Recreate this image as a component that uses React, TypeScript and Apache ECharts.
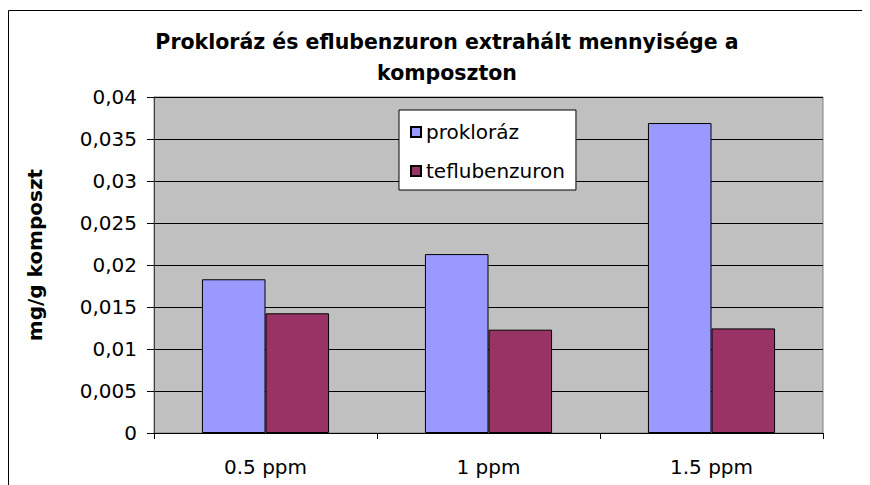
import React, { useEffect, useRef } from "react";
import * as echarts from "echarts";

const categories = ["0.5 ppm", "1 ppm", "1.5 ppm"];
const proklorazValues = [0.0183, 0.0213, 0.0369];
const teflubenzuronValues = [0.01425, 0.0123, 0.01245];
const seriesNames = ["prokloráz", "teflubenzuron"];
const titleLines = ["Prokloráz és eflubenzuron extrahált mennyisége a", "komposzton"];
const yAxisTitle = "mg/g komposzt";

const FONT = "'DejaVu Sans', 'Liberation Sans', Arial, sans-serif";

export default function App() {
  const ref = useRef<HTMLDivElement>(null);
  useEffect(() => {
    if (!ref.current) return;
    const chart = echarts.init(ref.current, undefined, { renderer: "svg" });
    chart.setOption({
      animation: false,
      backgroundColor: "#ffffff",
      textStyle: { fontFamily: FONT },
      grid: {
        left: 146,
        right: 47,
        top: 89,
        bottom: 52,
        show: true,
        backgroundColor: "#C0C0C0",
        borderColor: "#808080",
        borderWidth: 1,
      },
      graphic: [
        {
          type: "rect",
          shape: { x: 0.5, y: 2.5, width: 900, height: 500 },
          style: { fill: "none", stroke: "#000000", lineWidth: 1 },
          silent: true,
        },
        {
          type: "text",
          x: 439,
          y: 18,
          style: {
            text: titleLines.join("\n"),
            font: `bold 20.5px ${FONT}`,
            fill: "#000000",
            textAlign: "center",
            textVerticalAlign: "top",
            lineHeight: 31,
          },
        },
        {
          type: "text",
          x: 27,
          y: 247,
          rotation: Math.PI / 2,
          style: {
            text: yAxisTitle,
            font: `bold 20px ${FONT}`,
            fill: "#000000",
            textAlign: "center",
            textVerticalAlign: "middle",
          },
        },
      ],
      legend: {
        orient: "vertical",
        left: 391,
        top: 102,
        data: seriesNames,
        icon: "rect",
        itemWidth: 10,
        itemHeight: 10,
        itemGap: 19,
        backgroundColor: "#ffffff",
        borderColor: "#000000",
        borderWidth: 1,
        borderRadius: 0,
        padding: [12, 11, 9, 11],
        textStyle: { fontSize: 20, fontFamily: FONT, color: "#000000", lineHeight: 20 },
      },
      xAxis: {
        type: "category",
        data: categories,
        axisLine: { show: true, lineStyle: { color: "#000000", width: 1 } },
        axisTick: { show: true, length: 6, lineStyle: { color: "#000000" } },
        axisLabel: { fontSize: 20, color: "#000000", margin: 24, fontFamily: FONT },
        splitLine: { show: false },
      },
      yAxis: {
        type: "value",
        min: 0,
        max: 0.04,
        interval: 0.005,
        axisLine: { show: true, lineStyle: { color: "#404040", width: 1 } },
        axisTick: { show: true, length: 7, lineStyle: { color: "#000000" } },
        axisLabel: {
          fontSize: 20,
          color: "#000000",
          margin: 17,
          fontFamily: FONT,
          formatter: (v: number) => String(Math.round(v * 1000) / 1000).replace(".", ","),
        },
        splitLine: { show: true, lineStyle: { color: "#000000", width: 1 } },
      },
      series: [
        {
          name: seriesNames[0],
          type: "bar",
          data: proklorazValues,
          barGap: "0%",
          barCategoryGap: "43%",
          itemStyle: { color: "#9999FF", borderColor: "#000000", borderWidth: 1 },
        },
        {
          name: seriesNames[1],
          type: "bar",
          data: teflubenzuronValues,
          barGap: "0%",
          barCategoryGap: "43%",
          itemStyle: { color: "#993366", borderColor: "#000000", borderWidth: 1 },
        },
      ],
    });
    return () => chart.dispose();
  }, []);
  return <div ref={ref} style={{ width: 862, height: 477 }} />;
}
